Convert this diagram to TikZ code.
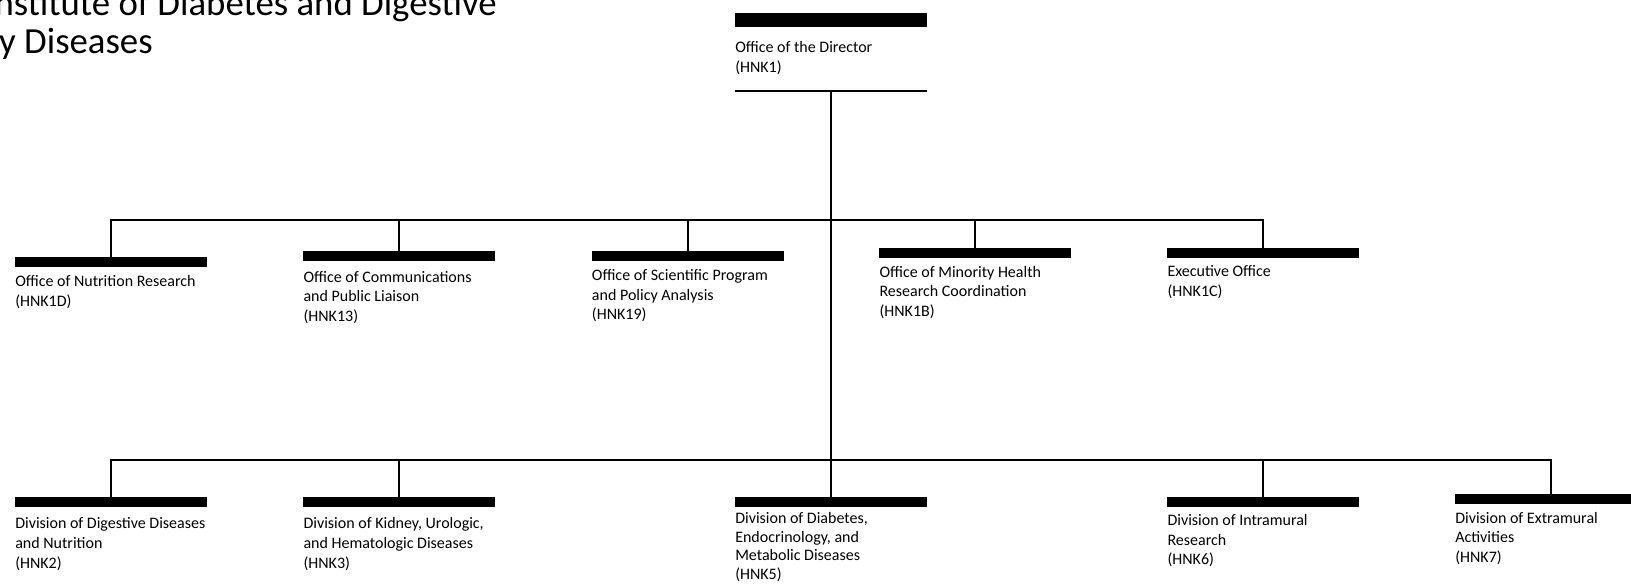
\documentclass[tikz,border=0pt]{standalone}
\usepackage{fontspec}
\setmainfont{Carlito}
\begin{document}
\begin{tikzpicture}[x=0.75pt,y=-0.75pt,
  bar/.style={fill=black,draw=none,inner sep=0pt,outer sep=0pt,minimum width=144pt,minimum height=7.5pt,anchor=north west},
  unit/.style={anchor=base west,align=left,inner sep=0pt,font=\fontsize{12}{14.8}\selectfont},
  conn/.style={line width=1.5pt},
  titletext/.style={anchor=base east,inner sep=0pt,font=\fontsize{27.6}{30}\selectfont}]
\useasboundingbox (0,0) rectangle (1631,584);
\clip (0,0) rectangle (1631,584);
\fill[white] (0,0) rectangle (1631,584);

% title (cut at the left edge, as in the reference)
\node[titletext] (title1) at (497,16) {Institute of Diabetes and Digestive};
\node[titletext] (title2) at (153,53.3) {Kidney Diseases};

% director (anchor = baseline of the last line)
\node[bar,minimum height=10pt] (dirbar) at (735,13.3) {};
\node[unit] (dirtext) at (735,72.7) {Office of the Director\\(HNK1)};
\coordinate (dirlineL) at (735,90.7);
\coordinate (dirlineR) at (927,90.7);
\coordinate (dirlineM) at (831,90.7);
\draw[conn] (dirlineL) -- (dirlineR);

% junctions
\coordinate (j1) at (831,220);
\coordinate (j2) at (831,460);

% offices row
\node[bar] (nutbar) at (15,256.7) {};
\node[unit] (nuttext) at (15,306.7) {Office of Nutrition Research\\(HNK1D)};
\node[bar,minimum height=7.7pt] (combar) at (303.3,250.7) {};
\node[unit] (comtext) at (303.3,321.5) {Office of Communications\\and Public Liaison\\(HNK13)};
\node[bar,minimum height=7.7pt] (scibar) at (591.7,250.7) {};
\node[unit] (scitext) at (591.7,319.8) {Office of Scientific Program\\and Policy Analysis\\(HNK19)};
\node[bar] (minbar) at (879.3,247.7) {};
\node[unit] (mintext) at (879.3,316.5) {Office of Minority Health\\Research Coordination\\(HNK1B)};
\node[bar] (exebar) at (1167.3,247.7) {};
\node[unit] (exetext) at (1167.3,296.7) {Executive Office\\(HNK1C)};

% divisions row
\node[bar] (digbar) at (15,496.7) {};
\node[unit] (digtext) at (15,568) {Division of Digestive Diseases\\and Nutrition\\(HNK2)};
\node[bar] (kidbar) at (303.3,496.7) {};
\node[unit] (kidtext) at (303.3,568) {Division of Kidney, Urologic,\\and Hematologic Diseases\\(HNK3)};
\node[bar] (diabar) at (735,496.7) {};
\node[unit,font=\fontsize{12}{14}\selectfont] (diatext) at (735,579.5) {Division of Diabetes,\\Endocrinology, and\\Metabolic Diseases\\(HNK5)};
\node[bar] (intbar) at (1167.3,496.7) {};
\node[unit] (inttext) at (1167.3,564.8) {Division of Intramural\\Research\\(HNK6)};
\node[bar,minimum height=7.7pt] (extbar) at (1455,494) {};
\node[unit] (exttext) at (1455,562.5) {Division of Extramural\\Activities\\(HNK7)};

% connectors
\draw[conn] (dirlineM) -- (j1) -- (j2);
\draw[conn] (j1) -| (nutbar.north);
\draw[conn] (j1) -| (combar.north);
\draw[conn] (j1) -| (scibar.north);
\draw[conn] (j1) -| (minbar.north);
\draw[conn] (j1) -| (exebar.north);
\draw[conn] (j2) -| (digbar.north);
\draw[conn] (j2) -| (kidbar.north);
\draw[conn] (j2) -- (diabar.north);
\draw[conn] (j2) -| (intbar.north);
\draw[conn] (j2) -| (extbar.north);
\end{tikzpicture}
\end{document}
